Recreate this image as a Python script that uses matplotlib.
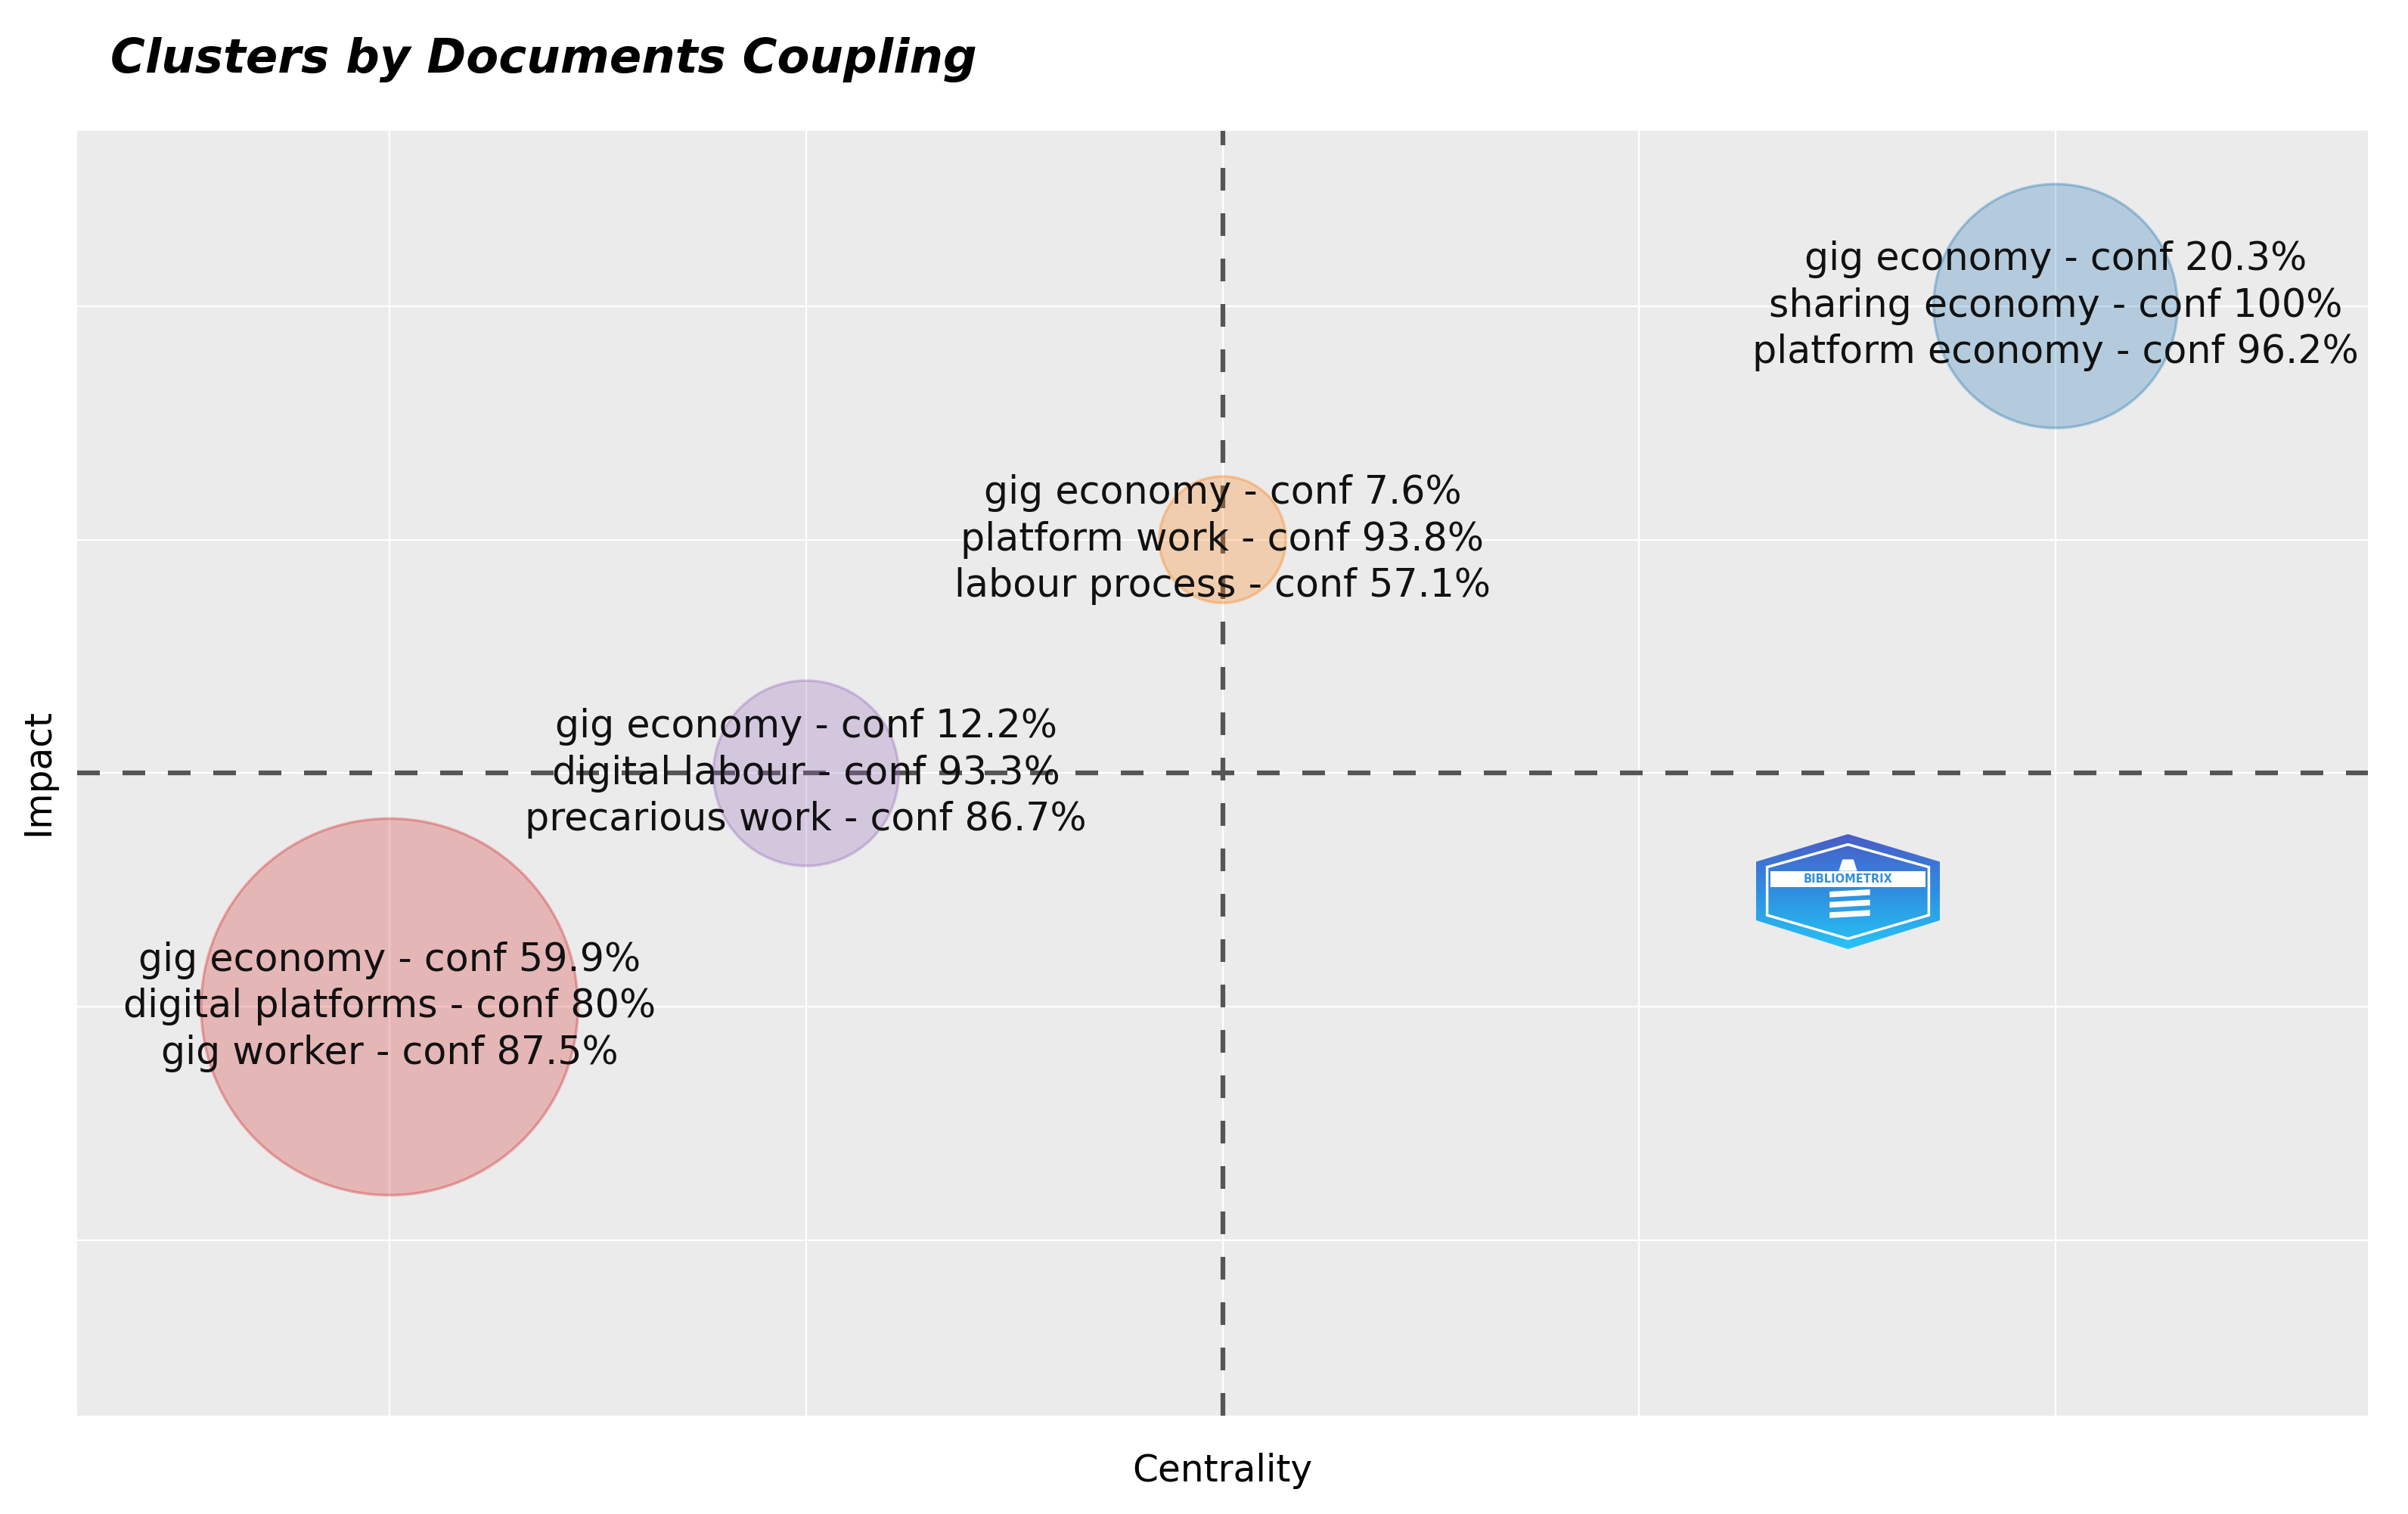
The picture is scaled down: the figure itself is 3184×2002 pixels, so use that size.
import numpy as np
import matplotlib
matplotlib.use("Agg")
import matplotlib.pyplot as plt
from matplotlib.patches import Polygon

plt.rcParams['font.family'] = ['DejaVu Sans']

# cluster data
clusters = ['red', 'purple', 'orange', 'blue']
centrality = [1, 2, 3, 5]
impact = [1, 2, 3, 4]
cluster_size = [62, 15, 7, 26]
colors = ['#d62728', '#9467bd', '#ff7f0e', '#1f77b4']
labels = [
    ['gig economy - conf 59.9%', 'digital platforms - conf 80%', 'gig worker - conf 87.5%'],
    ['gig economy - conf 12.2%', 'digital labour - conf 93.3%', 'precarious work - conf 86.7%'],
    ['gig economy - conf 7.6%', 'platform work - conf 93.8%', 'labour process - conf 57.1%'],
    ['gig economy - conf 20.3%', 'sharing economy - conf 100%', 'platform economy - conf 96.2%'],
]
x_line = 3
y_line = 2

fig = plt.figure(figsize=(31.84, 20.02), dpi=100)
ax = fig.add_axes([102 / 3184, 1 - 1872 / 2002, (3131 - 102) / 3184, (1872 - 173) / 2002])
ax.set_facecolor('#EBEBEB')
for s in ax.spines.values():
    s.set_visible(False)

ax.set_xlim(0.25, 5.75)
ax.set_ylim(-0.75, 4.75)
ax.set_xticks([1, 2, 3, 4, 5])
ax.set_yticks([0, 1, 2, 3, 4])
ax.tick_params(length=0, labelbottom=False, labelleft=False)
ax.grid(True, color='white', linewidth=1.6)
ax.set_axisbelow(True)

ax.axvline(x_line, color='#555555', lw=4.5, dashes=(4.8, 4.8), zorder=2)
ax.axhline(y_line, color='#555555', lw=4.5, dashes=(4.8, 4.8), zorder=2)

for x, y, n, c, lab in zip(centrality, impact, cluster_size, colors, labels):
    ax.scatter(x, y, s=n * 2074, color=c, alpha=0.27, edgecolors='none', zorder=3)
    ax.scatter(x, y, s=n * 2074, facecolors='none', edgecolors=c, alpha=0.35, linewidths=2.5, zorder=3)
    ax.text(x, y, '\n'.join(lab), ha='center', va='center', fontsize=36.5,
            linespacing=1.3, color='#111111', zorder=4)

fig.text(146 / 3184, 1 - 79 / 2002, 'Clusters by Documents Coupling', fontsize=45,
         fontweight='bold', fontstyle='italic', va='center', ha='left')
fig.text(1616 / 3184, 1 - 1945 / 2002, 'Centrality', fontsize=35, ha='center', va='center')
fig.text(50 / 3184, 1 - 1021 / 2002, 'Impact', fontsize=35, ha='center', va='center', rotation=90)

# logo (hexagon badge)
lg = fig.add_axes([2322 / 3184, 1 - 1255 / 2002, 243 / 3184, 152 / 2002])
lg.set_xlim(0, 1)
lg.set_ylim(0, 1)
lg.axis('off')
hexagon = np.array([[0.5, 1], [1, 0.76], [1, 0.25], [0.5, 0], [0, 0.25], [0, 0.76]])
clip = Polygon(hexagon, closed=True, facecolor='none', edgecolor='none')
lg.add_patch(clip)
grad = np.linspace(0, 1, 100).reshape(-1, 1)
cmap = matplotlib.colors.LinearSegmentedColormap.from_list('logo', ['#27c3f5', '#2f8fe0', '#4a5cc8'])
im = lg.imshow(grad, extent=(0, 1, 0, 1), origin='lower', cmap=cmap, aspect='auto')
im.set_clip_path(clip)
inner = hexagon * np.array([0.88, 0.82]) + np.array([0.06, 0.09])
lg.add_patch(Polygon(inner, closed=True, facecolor='none', edgecolor='white', lw=2.5))
lg.add_patch(Polygon([[0.08, 0.54], [0.92, 0.54], [0.92, 0.68], [0.08, 0.68]],
                     facecolor='white', edgecolor='none'))
lg.text(0.5, 0.61, 'BIBLIOMETRIX', ha='center', va='center', fontsize=10.5,
        fontweight='bold', color='#2f8fe0')
for yy in [0.27, 0.36, 0.45]:
    lg.add_patch(Polygon([[0.40, yy], [0.62, yy + 0.02], [0.62, yy + 0.07], [0.40, yy + 0.05]],
                         facecolor='white', edgecolor='none'))
lg.add_patch(Polygon([[0.45, 0.68], [0.55, 0.68], [0.53, 0.78], [0.47, 0.78]],
                     facecolor='white', edgecolor='none'))

fig.savefig('out.png', dpi=100, facecolor='white')
